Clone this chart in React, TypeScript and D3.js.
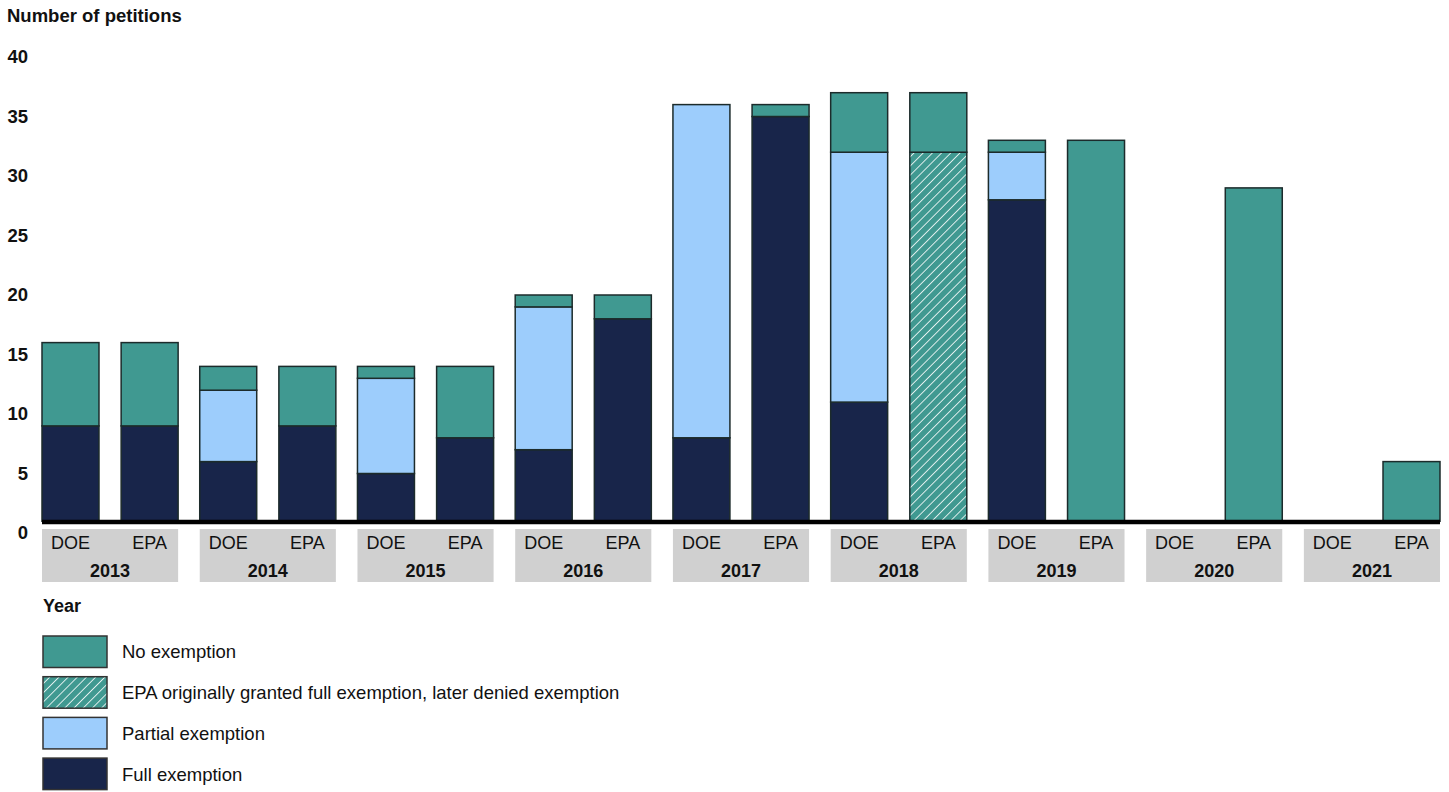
import React from "react";
import * as d3 from "d3";

const years = ["2013", "2014", "2015", "2016", "2017", "2018", "2019", "2020", "2021"];
const agencies = ["DOE", "EPA"];
const yTicks = [0, 5, 10, 15, 20, 25, 30, 35, 40];

// values per (year, agency) in the order of years x agencies
const fullExemption = [9, 9, 6, 9, 5, 8, 7, 18, 8, 35, 11, 0, 28, 0, 0, 0, 0, 0];
const partialExemption = [0, 0, 6, 0, 8, 0, 12, 0, 28, 0, 21, 0, 4, 0, 0, 0, 0, 0];
const laterDenied = [0, 0, 0, 0, 0, 0, 0, 0, 0, 0, 0, 32, 0, 0, 0, 0, 0, 0];
const noExemption = [7, 7, 2, 5, 1, 6, 1, 2, 0, 1, 5, 5, 1, 33, 0, 29, 0, 6];

const seriesKeys = ["full", "partial", "denied", "no"];
const legendItems = [
  { key: "no", label: "No exemption" },
  { key: "denied", label: "EPA originally granted full exemption, later denied exemption" },
  { key: "partial", label: "Partial exemption" },
  { key: "full", label: "Full exemption" },
];

const COLORS: Record<string, string> = {
  full: "#18254a",
  partial: "#9dcdfc",
  denied: "url(#hatch)",
  no: "#409991",
};

const W = 1449;
const H = 792;
const axisY = 522;
const FONT = "'Liberation Sans', Arial, sans-serif";

export default function App() {
  const rows = years.flatMap((yr, i) =>
    agencies.map((ag, j) => {
      const k = i * 2 + j;
      return {
        year: yr,
        agency: ag,
        full: fullExemption[k],
        partial: partialExemption[k],
        denied: laterDenied[k],
        no: noExemption[k],
      };
    })
  );

  const x0 = d3.scaleBand<string>().domain(years).range([42, 1440]).paddingInner(0.137).paddingOuter(0);
  const x1 = d3.scaleBand<string>().domain(agencies).range([0, x0.bandwidth()]).paddingInner(0.28).paddingOuter(0);
  const y = d3.scaleLinear().domain([0, 40]).range([533, 57]);

  const stack = d3.stack<any>().keys(seriesKeys);
  const series = stack(rows);

  return (
    <div style={{ position: "absolute", left: 0, top: 0 }}>
      <svg width={W} height={H} style={{ display: "block", fontFamily: FONT }}>
        <defs>
          <pattern id="hatch" patternUnits="userSpaceOnUse" width={6.5} height={6.5} patternTransform="rotate(45)">
            <rect width={6.5} height={6.5} fill="#409991" />
            <line x1={0} y1={0} x2={0} y2={6.5} stroke="#ffffff" strokeWidth={1.6} />
          </pattern>
          <clipPath id="plotClip">
            <rect x={0} y={0} width={W} height={axisY} />
          </clipPath>
        </defs>

        <text x={7} y={22} fontSize={18.5} fontWeight="bold" fill="#111">Number of petitions</text>

        {yTicks.map((t) => (
          <text key={t} x={28} y={y(t)} dy="0.35em" textAnchor="end" fontSize={18.5} fontWeight="bold" fill="#111">
            {t}
          </text>
        ))}

        <g clipPath="url(#plotClip)">
          {series.map((s) => (
            <g key={s.key}>
              {s.map((d: any, i: number) => {
                if (d[1] - d[0] <= 0) return null;
                const row = rows[i];
                const bx = (x0(row.year) as number) + (x1(row.agency) as number);
                return (
                  <rect
                    key={i}
                    x={bx}
                    y={y(d[1])}
                    width={x1.bandwidth()}
                    height={y(d[0]) - y(d[1])}
                    fill={COLORS[s.key]}
                    stroke="#1c2b2b"
                    strokeWidth={1.5}
                  />
                );
              })}
            </g>
          ))}
        </g>

        <line x1={42} x2={1440} y1={axisY} y2={axisY} stroke="#000" strokeWidth={4.5} />

        {years.map((yr) => {
          const gx = x0(yr) as number;
          return (
            <g key={yr}>
              <rect x={gx} y={529} width={x0.bandwidth()} height={53} fill="#d0d0d0" />
              {agencies.map((ag) => (
                <text
                  key={ag}
                  x={gx + (x1(ag) as number) + x1.bandwidth() / 2}
                  y={549}
                  textAnchor="middle"
                  fontSize={18}
                  fill="#111"
                >
                  {ag}
                </text>
              ))}
              <text x={gx + x0.bandwidth() / 2} y={577} textAnchor="middle" fontSize={18} fontWeight="bold" fill="#111">
                {yr}
              </text>
            </g>
          );
        })}

        <text x={43} y={612} fontSize={18} fontWeight="bold" fill="#111">Year</text>

        {legendItems.map((it, i) => {
          const ly = 636 + i * 40.7;
          return (
            <g key={it.key}>
              <rect x={43} y={ly} width={64} height={31.5} fill={COLORS[it.key]} stroke="#333" strokeWidth={1.5} />
              <text x={122} y={ly + 16} dy="0.35em" fontSize={18.5} fill="#111">
                {it.label}
              </text>
            </g>
          );
        })}
      </svg>
    </div>
  );
}
